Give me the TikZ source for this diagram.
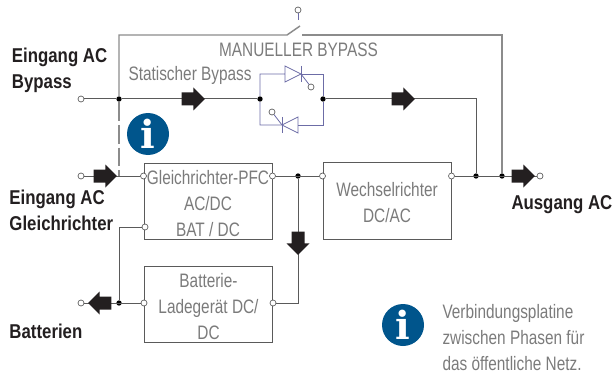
\documentclass[tikz,border=0pt]{standalone}
\usepackage{fontspec}
\setmainfont{Liberation Sans}[FakeStretch=0.79]
\newfontfamily\labelfont{Liberation Sans Bold}[FakeStretch=0.84]
\newfontfamily\iconfont{DejaVu Serif Bold}
\usetikzlibrary{shapes.arrows}
\definecolor{linegray}{HTML}{5A5A5A}
\definecolor{bypassgray}{HTML}{8C8C8C}
\definecolor{textgray}{HTML}{7B7B7B}
\definecolor{thyristorblue}{HTML}{6C6CA6}
\definecolor{infoblue}{HTML}{00558C}
\definecolor{arrowblack}{HTML}{231F20}

\begin{document}
\begin{tikzpicture}[x=0.75pt,y=-0.75pt,line width=0.75pt,draw=linegray, every label/.append style={inner sep=0pt,yshift=-1.2pt,align=center,text=textgray,font=\fontsize{14.6}{19.5}\selectfont}]
    \tikzstyle{port}=[circle,draw=linegray,fill=white,line width=0.5pt,minimum size=4.5pt,inner sep=0pt]
    \tikzstyle{junction}=[circle,fill=black,minimum size=4pt,inner sep=0pt]
    \tikzstyle{block}=[rectangle,draw=linegray,fill=white,minimum width=96pt,minimum height=57.5pt,inner sep=0pt]
    \tikzstyle{power}=[single arrow,fill=arrowblack,draw=none,text height=9pt,text depth=0pt,text width=0pt,minimum height=17.5pt,single arrow head extend=3.75pt,inner sep=0pt]
    \tikzstyle{title}=[anchor=west,inner sep=0pt,align=left,text=arrowblack,font=\labelfont\fontsize{15}{19.5}\selectfont]
    \tikzstyle{caption}=[inner sep=0pt,text=textgray,font=\fontsize{14.6}{19.5}\selectfont]
    \tikzstyle{info}=[circle,fill=infoblue,text=white,minimum size=31.5pt,inner sep=0pt,font=\iconfont\fontsize{29}{29}\selectfont]
    \tikzstyle{thyristor}=[draw=thyristorblue,line width=0.6pt]
    \tikzstyle{manual}=[draw=bypassgray,line width=1.1pt]

    \useasboundingbox (0,0) rectangle (616,374);

    % Draw the three converter blocks
    \node[block, label=center:{Gleichrichter-PFC\\AC/DC\\BAT / DC}] (Rectifier) at (208,201.5) {};
    \node[block, label=center:{Batterie-\\Ladegerät DC/\\DC}] (Charger) at (208.5,304.5) {};
    \node[block, label=center:{Wechselrichter\\DC/AC}] (Inverter) at (387,201) {};

    % Draw the ports
    \node[port] (In-Bypass) at (81,99) {};
    \node[port] (In-Rect) at (81,176) {};
    \node[port] (Battery) at (81,303) {};
    \node[port] (Out) at (540,176) {};
    \node[port] (Rect-In) at (Rectifier.west |- In-Rect) {};
    \node[port] (Rect-Out) at (Rectifier.east |- In-Rect) {};
    \node[port] (Rect-Bat) at (145,227) {};
    \node[port] (Charger-In) at (Charger.east |- Battery) {};
    \node[port] (Charger-Out) at (Charger.west |- Battery) {};
    \node[port] (Inv-In) at (Inverter.west |- In-Rect) {};
    \node[port] (Inv-Out) at (Inverter.east |- In-Rect) {};

    % Draw the junctions
    \node[junction] (J-Bypass) at (119,99) {};
    \node[junction] (J-Left) at (260,99) {};
    \node[junction] (J-Right) at (323,99) {};
    \node[junction] (J-Bus) at (298,176) {};
    \node[junction] (J-Static) at (476,176) {};
    \node[junction] (J-Manual) at (502,176) {};
    \node[junction] (J-Bat) at (119,303) {};

    % Draw the manual switch
    \node[port] (Switch-Pin) at (298,10) {};
    \coordinate (Switch-A) at (287,35);
    \coordinate (Switch-B) at (302,35);
    \coordinate (Switch-Tip) at (300,26);

    % Connect the blocks
    \path (In-Bypass) edge (J-Bypass);
    \path (J-Bypass) edge (J-Left);
    \path (J-Right) edge[to path={-| (\tikztotarget)}] (J-Static);
    \path (In-Rect) edge (Rect-In);
    \path (Rect-Out) edge (Inv-In);
    \path (Inv-Out) edge (Out);
    \path (J-Bus) edge[to path={|- (\tikztotarget)}] (Charger-In);
    \path (Rect-Bat) edge[to path={-| (\tikztotarget)}] (J-Bat);
    \path (Battery) edge (Charger-Out);
    \path[manual,dash pattern=on 14pt off 3pt] (J-Bypass) edge (J-Bypass |- In-Rect);

    % Manual bypass line
    \draw[manual] (J-Bypass) |- (Switch-A) -- (Switch-Tip);
    \draw[manual] (Switch-B) -| (J-Manual);
    \draw[thyristor] (Switch-Pin) -- (Switch-Pin |- 0,20);

    % Draw the thyristors
    \draw[thyristor] (J-Left) |- (285,74) (285,66) -- (301,74) -- (285,82) -- cycle;
    \draw[thyristor] (301,66) -- (301,82) (301,74) -| (J-Right);
    \draw[thyristor] (J-Left) |- (282,125) -- (298,117) -- (298,133) -- (282,125);
    \draw[thyristor] (282,117) -- (282,133);
    \draw[thyristor] (298,125) -| (J-Right);
    \node[port] (Gate-Top) at (311,87) {};
    \node[port] (Gate-Bottom) at (272,112) {};
    \draw[thyristor] (301,74) -- (Gate-Top);
    \draw[thyristor] (282,125) -- (Gate-Bottom);

    % Draw the arrows
    \node[power] (A-Bypass) at (190,99) {};
    \node[power] (A-Static) at (400,99) {};
    \node[power] (A-Rect) at (102,176) {};
    \node[power] (A-Out) at (520,176) {};
    \node[power,rotate=270] (A-Bus) at (298,240) {};
    \node[power,rotate=180] (A-Bat) at (103,303) {};

    % Draw the labels
    \node[title] (L-Bypass) at (11.5,70.5) {Eingang AC\\Bypass};
    \node[title] (L-Rect) at (9,210) {Eingang AC\\Gleichrichter};
    \node[title] (L-Bat) at (9,331) {Batterien};
    \node[title] (L-Out) at (511,205) {Ausgang AC};
    \node[caption] (L-Manual) at (298.5,50) {MANUELLER BYPASS};
    \node[caption,anchor=west] (L-Static) at (128,75) {Statischer Bypass};
    \node[caption,anchor=west,align=left] (L-Note) at (442,337.5) {Verbindungsplatine\\zwischen Phasen für\\das öffentliche Netz.};

    % Draw the info icons
    \node[info] (Info-Bus) at (148,134) {i};
    \node[info] (Info-Note) at (403,325) {i};
\end{tikzpicture}
\end{document}
